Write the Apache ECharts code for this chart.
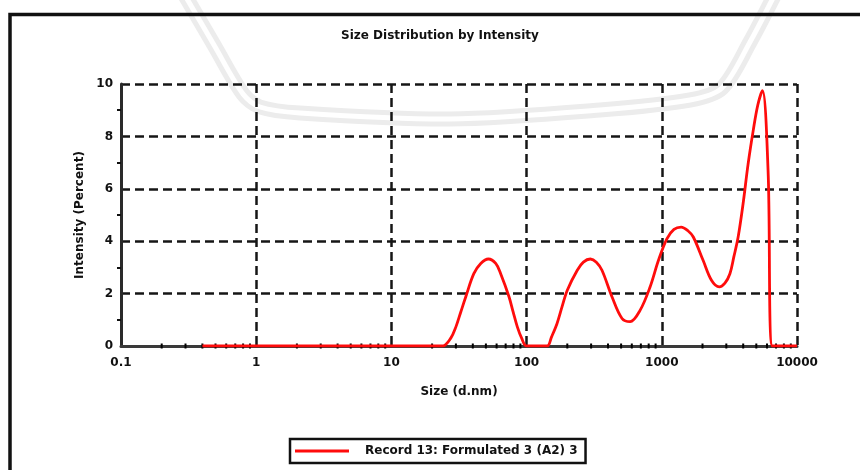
<!DOCTYPE html>
<html>
<head>
<meta charset="utf-8">
<script src="https://cdn.jsdelivr.net/npm/echarts@6/dist/echarts.min.js"></script>
<style>
  html, body { margin: 0; padding: 0; background: #ffffff; }
  #chart { width: 860px; height: 470px; }
</style>
</head>
<body>
<div id="chart"></div>
<script>
// Size bins (d.nm) and the intensity (%) measured in each
const sizes = [0.4, 21, 24, 27.5, 30, 32.6, 35.5, 40.7, 45.8, 52.2, 59.1, 64.3, 74.1, 79.5, 85.4, 91.9,
  100, 120, 142, 153, 168, 183, 200, 237, 263, 296, 328, 361, 428, 508, 583, 692, 820, 945,
  1090, 1230, 1390, 1560, 1710, 2020, 2330, 2660, 2930, 3190, 3410, 3670, 3990, 4350, 4740,
  5130, 5550, 6110, 6580, 10000];
const intensity = [0, 0, 0, 0.3, 0.73, 1.3, 1.88, 2.76, 3.15, 3.32, 3.15, 2.76, 1.88, 1.3, 0.73, 0.3,
  0, 0, 0, 0.35, 0.86, 1.5, 2.13, 2.89, 3.2, 3.32, 3.2, 2.89, 1.88, 1.05, 0.93, 1.37, 2.26, 3.27,
  4.09, 4.45, 4.54, 4.4, 4.16, 3.27, 2.51, 2.26, 2.4, 2.76, 3.4, 4.16, 5.42, 6.95, 8.21,
  9.2, 9.75, 6.69, 0, 0];

const seriesName = 'Record 13: Formulated 3 (A2) 3';
const chartTitle = 'Size Distribution by Intensity';
const xAxisName = 'Size (d.nm)';
const yAxisName = 'Intensity (Percent)';
const xTickLabels = ['0.1', '1', '10', '100', '1000', '10000'];
const yTickLabels = ['0', '2', '4', '6', '8', '10'];

// Minor tick positions on the log size axis (2..9 within each decade)
const xMinorTicks = [];
[0.1, 1, 10, 100, 1000].forEach(function (d) {
  for (let k = 2; k <= 9; k++) xMinorTicks.push(d * k);
});

const FONT = '"DejaVu Sans", Verdana, sans-serif';
const gridDash = { color: '#161616', width: 2.5, type: [9, 5] };

// faint watermark arc in the background
const arcPoints = [[183, -8], [214, 45], [243, 94], [260, 107], [300, 113], [450, 119],
  [600, 110], [690, 100], [722, 88], [750, 42], [776, -8]];

const chart = echarts.init(document.getElementById('chart'), null, { renderer: 'canvas' });

chart.setOption({
  backgroundColor: '#ffffff',
  animation: false,
  title: {
    text: chartTitle,
    left: 336,
    top: 25,
    textStyle: { fontFamily: FONT, fontSize: 12, fontWeight: 'bold', color: '#111' }
  },
  grid: { left: 121, right: 63, top: 84, bottom: 124, containLabel: false },
  xAxis: {
    type: 'log',
    logBase: 10,
    min: 0.1,
    max: 10000,
    name: xAxisName,
    nameLocation: 'middle',
    nameGap: 40,
    nameTextStyle: { fontFamily: FONT, fontSize: 12, fontWeight: 'bold', color: '#111' },
    axisLine: { show: true, onZero: false, lineStyle: { color: '#3a3a3a', width: 3 } },
    axisTick: { show: false },
    axisLabel: {
      margin: 11,
      fontFamily: FONT, fontSize: 12, fontWeight: 'bold', color: '#111',
      formatter: function (v) {
        const i = Math.round(Math.log10(v)) + 1;
        return xTickLabels[i] !== undefined ? xTickLabels[i] : '';
      }
    },
    splitLine: { show: true, lineStyle: gridDash }
  },
  yAxis: {
    type: 'value',
    min: 0,
    max: 10,
    interval: 2,
    name: yAxisName,
    nameLocation: 'middle',
    nameGap: 34,
    nameTextStyle: { fontFamily: FONT, fontSize: 12, fontWeight: 'bold', color: '#111' },
    axisLine: { show: true, lineStyle: { color: '#2a2a2a', width: 3 } },
    axisTick: { show: false },
    minorTick: { show: true, splitNumber: 2, length: 4, lineStyle: { color: '#111', width: 2 } },
    axisLabel: {
      margin: 8,
      fontFamily: FONT, fontSize: 12, fontWeight: 'bold', color: '#111',
      formatter: function (v) { return yTickLabels[Math.round(v / 2)]; }
    },
    splitLine: { show: true, lineStyle: gridDash }
  },
  legend: {
    left: 290,
    top: 439,
    data: [seriesName],
    icon: 'rect',
    borderColor: '#111',
    borderWidth: 2.5,
    borderRadius: 0,
    padding: [6, 8, 6, 5],
    itemWidth: 54,
    itemHeight: 3,
    itemGap: 10,
    textStyle: { fontFamily: FONT, fontSize: 12, fontWeight: 'bold', color: '#111', padding: [0, 0, 0, 11] }
  },
  graphic: [
    {
      type: 'polyline', z: -20, silent: true,
      shape: { points: arcPoints, smooth: 0.3 },
      style: { fill: null, stroke: '#ececec', lineWidth: 15 }
    },
    {
      type: 'polyline', z: -19, silent: true,
      shape: { points: arcPoints, smooth: 0.3 },
      style: { fill: null, stroke: '#ffffff', lineWidth: 5 }
    },
    // outer frame
    {
      type: 'rect', z: 10, silent: true,
      shape: { x: 10, y: 14.5, width: 900, height: 500 },
      style: { fill: null, stroke: '#111', lineWidth: 3.5 }
    }
  ],
  series: [
    {
      name: seriesName,
      type: 'line',
      data: sizes.map(function (s, i) { return [s, intensity[i]]; }),
      symbol: 'none',
      smooth: 0.35,
      z: 5,
      lineStyle: { color: '#ff0c0c', width: 2.8 },
      itemStyle: { color: '#ff0c0c' }
    },
    {
      name: 'xMinor',
      type: 'custom',
      silent: true,
      z: 4,
      data: xMinorTicks.map(function (v) { return [v, 0]; }),
      renderItem: function (params, api) {
        const p = api.coord([api.value(0), 0]);
        return {
          type: 'line',
          shape: { x1: p[0], y1: p[1] - 2.5, x2: p[0], y2: p[1] + 2.5 },
          style: { stroke: '#000', lineWidth: 2 }
        };
      }
    }
  ]
});
</script>
</body>
</html>
